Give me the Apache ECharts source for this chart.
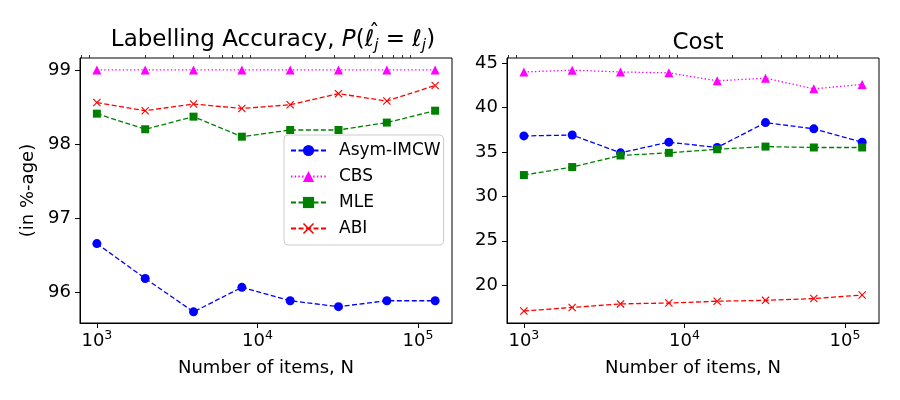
<!DOCTYPE html>
<html style="height: 100%;width:100%">
<head>
<meta charset="utf-8">
<title>ECharts</title>
<script src="https://cdn.jsdelivr.net/npm/echarts@6/dist/echarts.min.js"></script>
</head>
<body style="margin:0;height: 100%;width:100%">
<div id="chart" style="width:900px;height:400px;"></div>
<script>
// number of items on the (log) x axis
var itemsN = [1000, 2000, 4000, 8000, 16000, 32000, 64000, 128000];

// labelling accuracy, in %
var accAsym = [96.66, 96.19, 95.74, 96.07, 95.89, 95.81, 95.89, 95.89];
var accCBS  = [99.0, 99.0, 99.0, 99.0, 99.0, 99.0, 99.0, 99.0];
var accMLE  = [98.41, 98.20, 98.37, 98.10, 98.19, 98.19, 98.29, 98.45];
var accABI  = [98.56, 98.45, 98.54, 98.48, 98.53, 98.68, 98.58, 98.79];

// cost
var costAsym = [36.8, 36.9, 34.9, 36.1, 35.5, 38.3, 37.6, 36.1];
var costCBS  = [44.0, 44.2, 44.0, 43.9, 43.0, 43.3, 42.1, 42.6];
var costMLE  = [32.4, 33.3, 34.6, 34.9, 35.3, 35.6, 35.5, 35.5];
var costABI  = [17.1, 17.5, 17.9, 18.0, 18.2, 18.3, 18.5, 18.9];

var accTicks = [96, 97, 98, 99];
var costTicks = [20, 25, 30, 35, 40, 45];
var xMajor = [1000, 10000, 100000];
var xMinor = [800, 900, 2000, 3000, 4000, 5000, 6000, 7000, 8000, 9000,
              20000, 30000, 40000, 50000, 60000, 70000, 80000, 90000];

var FONT = 'DejaVu Sans';
var crossPath = 'path://M1,0 L5,4 L9,0 L10,1 L6,5 L10,9 L9,10 L5,6 L1,10 L0,9 L4,5 L0,1 Z';

function pairs(ys) {
    return itemsN.map(function (n, i) { return [n, ys[i]]; });
}

function makeSeries(name, ys, xi, yi, color, symbol, size, dash) {
    return {
        name: name,
        type: 'line',
        xAxisIndex: xi,
        yAxisIndex: yi,
        data: pairs(ys),
        symbol: symbol,
        symbolSize: size,
        showSymbol: true,
        animation: false,
        itemStyle: {color: color},
        lineStyle: {color: color, width: 1.3, type: dash},
        z: 3
    };
}

function majorX(gi) {
    return {
        type: 'log', gridIndex: gi, min: 785, max: 163000,
        axisLine: {show: true, lineStyle: {color: '#000', width: 1}},
        axisTick: {show: true, length: 5, customValues: xMajor, lineStyle: {color: '#000', width: 1}},
        splitLine: {show: false},
        minorTick: {show: false},
        axisLabel: {
            customValues: xMajor,
            margin: 8,
            formatter: function (v) {
                var e = Math.round(Math.log10(v));
                return '{b|10}{s|' + e + '}';
            },
            rich: {
                b: {fontFamily: FONT, fontSize: 18, color: '#000', lineHeight: 20, verticalAlign: 'middle'},
                s: {fontFamily: FONT, fontSize: 12.5, color: '#000', lineHeight: 16, verticalAlign: 'middle', padding: [0, 0, 10, 0]}
            }
        },
        name: 'Number of items, N',
        nameLocation: 'middle',
        nameGap: 36,
        nameTextStyle: {fontFamily: FONT, fontSize: 18, color: '#000'}
    };
}

function minorX(gi) {
    return {
        type: 'log', gridIndex: gi, min: 785, max: 163000,
        axisLine: {show: false},
        axisTick: {show: true, length: 3, customValues: xMinor, lineStyle: {color: '#000', width: 0.8}},
        axisLabel: {show: false},
        splitLine: {show: false}
    };
}

function valueY(gi, min, max, ticks, name) {
    return {
        type: 'value', gridIndex: gi, min: min, max: max,
        axisLine: {show: true, lineStyle: {color: '#000', width: 1}},
        axisTick: {show: true, length: 5, customValues: ticks, lineStyle: {color: '#000', width: 1}},
        splitLine: {show: false},
        axisLabel: {customValues: ticks, margin: 9, fontFamily: FONT, fontSize: 18, color: '#000'},
        name: name,
        nameLocation: 'middle',
        nameGap: 43,
        nameRotate: 90,
        nameTextStyle: {fontFamily: FONT, fontSize: 18, color: '#000'}
    };
}

var myChart = echarts.init(document.getElementById('chart'), null, {renderer: 'canvas'});

var titleRich = {
    n: {fontFamily: FONT, fontSize: 23, fontWeight: 'normal', color: '#000', lineHeight: 26, verticalAlign: 'middle'},
    i: {fontFamily: FONT, fontSize: 23, fontWeight: 'normal', fontStyle: 'italic', color: '#000', lineHeight: 26, verticalAlign: 'middle'},
    // hat over the first l: zero-width token drawn back over the previous glyph
    h: {fontFamily: FONT, fontSize: 21, fontWeight: 'normal', color: '#000', lineHeight: 20, width: 0, align: 'right', verticalAlign: 'middle', padding: [0, 0, 12, 0]},
    j: {fontFamily: FONT, fontSize: 15.5, fontWeight: 'normal', fontStyle: 'italic', color: '#000', lineHeight: 20, verticalAlign: 'middle', padding: [12, 0, 0, 0]}
};

var option = {
    backgroundColor: '#fff',
    animation: false,
    title: [{
        text: '{n|Labelling Accuracy, }{i|P}{n|(}{i|ℓ}{h|\u02C6}{j|j}{n| = }{i|ℓ}{j|j}{n|)}',
        left: 268, top: 22, textAlign: 'center',
        textStyle: {fontWeight: 'normal', rich: titleRich}
    }, {
        text: 'Cost',
        left: 693, top: 27, textAlign: 'center',
        textStyle: {fontFamily: FONT, fontSize: 23, fontWeight: 'normal', color: '#000'}
    }],
    grid: [
        {left: 80, top: 58, width: 372, height: 265, show: true, borderColor: '#000', borderWidth: 1, backgroundColor: '#fff'},
        {left: 507, top: 58, width: 372, height: 265, show: true, borderColor: '#000', borderWidth: 1, backgroundColor: '#fff'}
    ],
    legend: {
        orient: 'vertical',
        left: 284, top: 135,
        data: ['Asym-IMCW', 'CBS', 'MLE', 'ABI'],
        itemWidth: 35, itemHeight: 14, itemGap: 9,
        padding: [7, 3, 8, 6],
        borderColor: '#cccccc', borderWidth: 1, borderRadius: 4,
        backgroundColor: 'rgba(255,255,255,0.8)',
        textStyle: {fontFamily: FONT, fontSize: 17, color: '#000', lineHeight: 14, padding: [0, 0, 0, 8]},
        z: 10
    },
    xAxis: [majorX(0), minorX(0), majorX(1), minorX(1)],
    yAxis: [
        valueY(0, 95.59, 99.16, accTicks, '(in %-age)'),
        valueY(1, 15.75, 45.57, costTicks, '')
    ],
    series: [
        makeSeries('Asym-IMCW', accAsym, 0, 0, '#0000ff', 'circle', 9, [5, 2.5]),
        makeSeries('CBS', accCBS, 0, 0, '#ff00ff', 'triangle', 9, [1.4, 2.3]),
        makeSeries('MLE', accMLE, 0, 0, '#008000', 'rect', 8, [5, 2.5]),
        makeSeries('ABI', accABI, 0, 0, '#ff0000', crossPath, 8, [5, 2.5]),
        makeSeries('Asym-IMCW', costAsym, 2, 1, '#0000ff', 'circle', 9, [5, 2.5]),
        makeSeries('CBS', costCBS, 2, 1, '#ff00ff', 'triangle', 9, [1.4, 2.3]),
        makeSeries('MLE', costMLE, 2, 1, '#008000', 'rect', 8, [5, 2.5]),
        makeSeries('ABI', costABI, 2, 1, '#ff0000', crossPath, 8, [5, 2.5])
    ]
};

myChart.setOption(option);
</script>
</body>
</html>
